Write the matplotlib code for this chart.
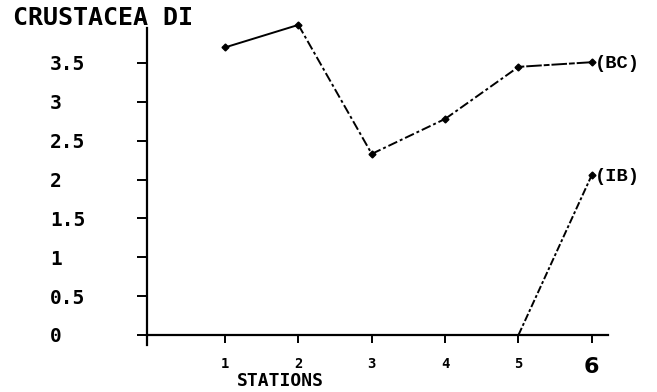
import matplotlib
matplotlib.use("Agg")
import matplotlib.pyplot as plt

# data
stations = [1, 2, 3, 4, 5, 6]
bc_values = [3.70, 3.99, 2.33, 2.78, 3.45, 3.51]
ib_stations = [5, 6]
ib_values = [0.0, 2.06]
y_ticks = [0, 0.5, 1, 1.5, 2, 2.5, 3, 3.5]
y_tick_labels = ["0", "0.5", "1", "1.5", "2", "2.5", "3", "3.5"]
x_tick_labels = ["1", "2", "3", "4", "5", "6"]

# segment styles of the BC line (solid / broken as drawn by the plotter)
bc_seg_styles = ["-", (0, (5, 1.5, 1.5, 1.5)), (0, (5, 1.5, 1.5, 1.5)),
                 (0, (5, 1.5, 1.5, 1.5)), (0, (3, 1, 8, 1))]

plot_font = "DejaVu Sans Mono"
label_font = "Liberation Mono"

fig = plt.figure(figsize=(6.57, 3.92), dpi=100)
ax = fig.add_axes([147 / 657, 47 / 392, (608 - 147) / 657, (345 - 28) / 392])

for i in range(len(stations) - 1):
    ax.plot(stations[i:i + 2], bc_values[i:i + 2], color="black", lw=1.4,
            linestyle=bc_seg_styles[i], clip_on=False)
ax.plot(stations, bc_values, linestyle="none", marker="D", ms=3.5,
        color="black", clip_on=False)

ax.plot(ib_stations, ib_values, color="black", lw=1.4,
        linestyle=(0, (4, 1.2, 1.5, 1.2)), clip_on=False)
ax.plot(ib_stations[1:], ib_values[1:], linestyle="none", marker="D", ms=3.5,
        color="black", clip_on=False)

ax.annotate("(BC)", (stations[-1], bc_values[-1]), xytext=(2, -1),
            textcoords="offset points", ha="left", va="center",
            fontsize=13.5, fontweight="bold", family=label_font)
ax.annotate("(IB)", (ib_stations[-1], ib_values[-1]), xytext=(2, -1),
            textcoords="offset points", ha="left", va="center",
            fontsize=13.5, fontweight="bold", family=label_font)

ax.set_xlim(-0.063, 6.22)
ax.set_ylim(-0.129, 3.95)

for s in ["top", "right"]:
    ax.spines[s].set_visible(False)
ax.spines["bottom"].set_position(("data", 0))
ax.spines["left"].set_linewidth(1.6)
ax.spines["bottom"].set_linewidth(1.6)

ax.set_yticks(y_ticks)
ax.set_yticklabels(y_tick_labels, family=plot_font, fontweight="bold",
                   fontsize=14, ha="left")
ax.tick_params(axis="y", direction="out", length=7, width=1.4, pad=63)

ax.set_xticks(stations)
ax.set_xticklabels(x_tick_labels, family=plot_font, fontweight="bold",
                   fontsize=10)
ax.tick_params(axis="x", direction="out", length=6, width=1.4, pad=10)
six = ax.get_xticklabels()[-1]
six.set_fontsize(16)
six.set_family("DejaVu Sans")
six.set_verticalalignment("top")

fig.text(13 / 657, 1 - 18 / 392, "CRUSTACEA DI", ha="left", va="center",
         family=plot_font, fontweight="bold", fontsize=18)
fig.text(280 / 657, 1 - 381 / 392, "STATIONS", ha="center", va="center",
         family=plot_font, fontweight="bold", fontsize=13)

fig.savefig("out.png", dpi=100)
